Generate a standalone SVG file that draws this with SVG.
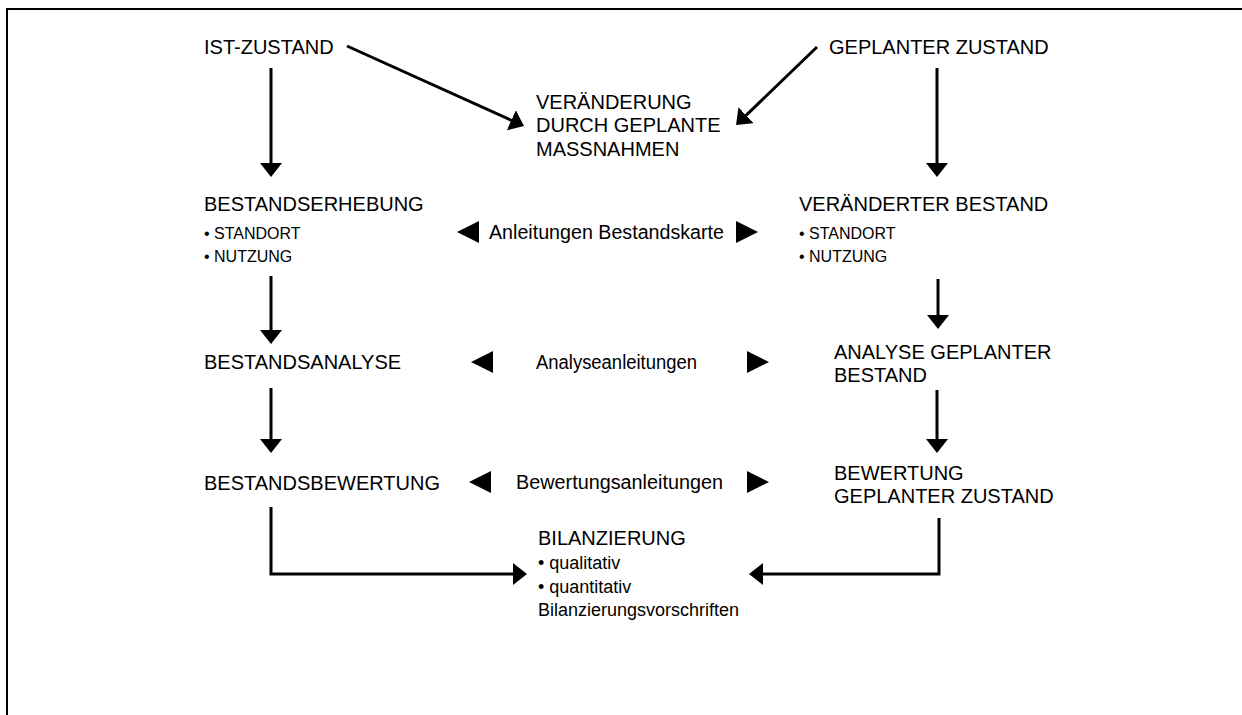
<svg xmlns="http://www.w3.org/2000/svg" width="1242" height="715" viewBox="0 0 1242 715">
  <defs>
    <style>
      text { font-family: "Liberation Sans", Arial, sans-serif; fill: #000; }
      .h { font-size: 20px; }
      .s { font-size: 16px; }
      .b { font-size: 18px; }
      .m { font-size: 19.5px; }
      .c { fill: none; stroke: #000; stroke-width: 3; }
      .frame { fill: none; stroke: #000; stroke-width: 2; }
    </style>
    <marker id="head" viewBox="0 0 14 22" refX="11" refY="11" markerWidth="14" markerHeight="22" markerUnits="userSpaceOnUse" orient="auto">
      <path d="M0,0 L14,11 L0,22 z" fill="#000"/>
    </marker>
    <path id="tri-left" d="M0,0 L22,-11 L22,11 z" fill="#000"/>
    <path id="tri-right" d="M0,-11 L22,0 L0,11 z" fill="#000"/>
  </defs>

  <rect width="1242" height="715" fill="#fff"/>
  <rect class="frame" x="7" y="9" width="1300" height="800"/>

  <!-- connectors -->
  <g id="connectors">
    <line class="c" x1="271" y1="68" x2="271" y2="174" marker-end="url(#head)"/>
    <line class="c" x1="937" y1="68" x2="937" y2="174" marker-end="url(#head)"/>
    <line class="c" x1="347" y1="46" x2="521.3" y2="124.8" marker-end="url(#head)"/>
    <line class="c" x1="817" y1="47" x2="738.2" y2="122.9" marker-end="url(#head)"/>
    <line class="c" x1="271" y1="276" x2="271" y2="341" marker-end="url(#head)"/>
    <line class="c" x1="271" y1="388" x2="271" y2="450" marker-end="url(#head)"/>
    <polyline class="c" points="271,507 271,574 524,574" marker-end="url(#head)"/>
    <line class="c" x1="938" y1="279" x2="938" y2="326" marker-end="url(#head)"/>
    <line class="c" x1="937" y1="390" x2="937" y2="450" marker-end="url(#head)"/>
    <polyline class="c" points="939,518 939,574 752,574" marker-end="url(#head)"/>
  </g>

  <g id="ist-zustand">
    <text class="h" x="204" y="54">IST-ZUSTAND</text>
  </g>
  <g id="geplanter-zustand">
    <text class="h" x="829" y="54">GEPLANTER ZUSTAND</text>
  </g>
  <g id="veraenderung">
    <text class="h" x="536" y="109">VERÄNDERUNG</text>
    <text class="h" x="536" y="132">DURCH GEPLANTE</text>
    <text class="h" x="536" y="156">MASSNAHMEN</text>
  </g>

  <g id="bestandserhebung">
    <text class="h" x="204" y="211">BESTANDSERHEBUNG</text>
    <text class="s" x="204" y="239">• STANDORT</text>
    <text class="s" x="204" y="262">• NUTZUNG</text>
  </g>
  <g id="anleitungen-bestandskarte">
    <use href="#tri-left" x="457" y="232"/>
    <text class="m" x="489" y="239" textLength="235" lengthAdjust="spacingAndGlyphs">Anleitungen Bestandskarte</text>
    <use href="#tri-right" x="736" y="232"/>
  </g>
  <g id="veraenderter-bestand">
    <text class="h" x="799" y="211">VERÄNDERTER BESTAND</text>
    <text class="s" x="799" y="239">• STANDORT</text>
    <text class="s" x="799" y="262">• NUTZUNG</text>
  </g>

  <g id="bestandsanalyse">
    <text class="h" x="204" y="369">BESTANDSANALYSE</text>
  </g>
  <g id="analyseanleitungen">
    <use href="#tri-left" x="471" y="362"/>
    <text class="m" x="536" y="369" textLength="161" lengthAdjust="spacingAndGlyphs">Analyseanleitungen</text>
    <use href="#tri-right" x="747" y="362"/>
  </g>
  <g id="analyse-geplanter-bestand">
    <text class="h" x="834" y="359">ANALYSE GEPLANTER</text>
    <text class="h" x="834" y="382">BESTAND</text>
  </g>

  <g id="bestandsbewertung">
    <text class="h" x="204" y="490">BESTANDSBEWERTUNG</text>
  </g>
  <g id="bewertungsanleitungen">
    <use href="#tri-left" x="469" y="482"/>
    <text class="m" x="516" y="489" textLength="207" lengthAdjust="spacingAndGlyphs">Bewertungsanleitungen</text>
    <use href="#tri-right" x="747" y="482"/>
  </g>
  <g id="bewertung-geplanter-zustand">
    <text class="h" x="834" y="480">BEWERTUNG</text>
    <text class="h" x="834" y="503">GEPLANTER ZUSTAND</text>
  </g>

  <g id="bilanzierung">
    <text class="h" x="538" y="545">BILANZIERUNG</text>
    <text class="b" x="538" y="569">• qualitativ</text>
    <text class="b" x="538" y="593">• quantitativ</text>
    <text class="b" x="538" y="616">Bilanzierungsvorschriften</text>
  </g>
</svg>
